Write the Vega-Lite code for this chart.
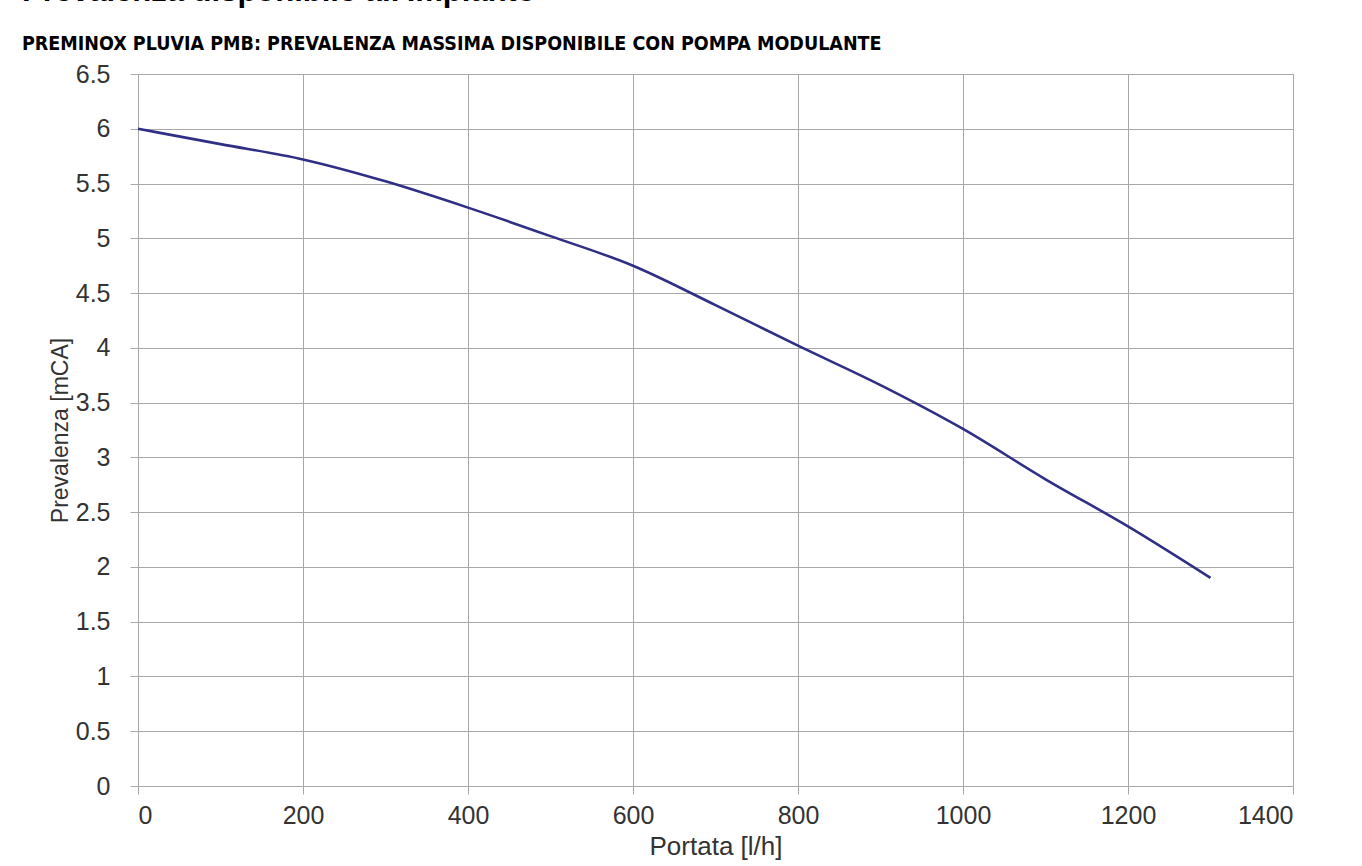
{
  "$schema": "https://vega.github.io/schema/vega-lite/v6.json",
  "autosize": "none",
  "width": 1155,
  "height": 712,
  "padding": {"left": 138, "top": 74, "right": 69, "bottom": 80},
  "background": "white",
  "title": {
    "text": "Prevalenza disponibile all'impianto",
    "subtitle": "PREMINOX PLUVIA PMB: PREVALENZA MASSIMA DISPONIBILE CON POMPA MODULANTE",
    "anchor": "start",
    "frame": "group",
    "dx": -116,
    "offset": 8,
    "font": "Liberation Sans",
    "fontSize": 31,
    "fontWeight": "bold",
    "color": "black",
    "subtitleFont": "DejaVu Sans Condensed, Liberation Sans",
    "subtitleFontSize": 19.5,
    "subtitleFontWeight": "bold",
    "subtitleColor": "black",
    "subtitlePadding": 27
  },
  "data": {
    "values": [
      {"portata": 0, "prevalenza": 6.0},
      {"portata": 100, "prevalenza": 5.86},
      {"portata": 200, "prevalenza": 5.72},
      {"portata": 300, "prevalenza": 5.52},
      {"portata": 400, "prevalenza": 5.28},
      {"portata": 500, "prevalenza": 5.02},
      {"portata": 600, "prevalenza": 4.75},
      {"portata": 700, "prevalenza": 4.39},
      {"portata": 800, "prevalenza": 4.02},
      {"portata": 900, "prevalenza": 3.66},
      {"portata": 1000, "prevalenza": 3.26},
      {"portata": 1100, "prevalenza": 2.8},
      {"portata": 1200, "prevalenza": 2.37},
      {"portata": 1300, "prevalenza": 1.9}
    ]
  },
  "mark": {"type": "line", "color": "#2f2f85", "strokeWidth": 2.6, "interpolate": "monotone"},
  "encoding": {
    "x": {
      "field": "portata",
      "type": "quantitative",
      "scale": {"domain": [0, 1400], "nice": false, "zero": true},
      "axis": {
        "title": "Portata [l/h]",
        "values": [0, 200, 400, 600, 800, 1000, 1200, 1400],
        "format": "d",
        "labelPadding": 9,
        "titlePadding": 5,
        "titleFontSize": 26
      }
    },
    "y": {
      "field": "prevalenza",
      "type": "quantitative",
      "scale": {"domain": [0, 6.5], "nice": false},
      "axis": {
        "title": "Prevalenza [mCA]",
        "values": [0, 0.5, 1, 1.5, 2, 2.5, 3, 3.5, 4, 4.5, 5, 5.5, 6, 6.5],
        "format": "~g",
        "labelPadding": 20,
        "titlePadding": 3,
        "titleFontSize": 23
      }
    }
  },
  "config": {
    "view": {"stroke": null},
    "axis": {
      "grid": true,
      "gridColor": "#a8a8a8",
      "gridWidth": 1,
      "gridOpacity": 1,
      "domain": false,
      "tickColor": "#a8a8a8",
      "tickSize": 8,
      "labelFont": "Liberation Sans",
      "labelFontSize": 25,
      "labelColor": "#333333",
      "titleFont": "Liberation Sans",
      "titleFontWeight": "normal",
      "titleColor": "#333333"
    }
  }
}
